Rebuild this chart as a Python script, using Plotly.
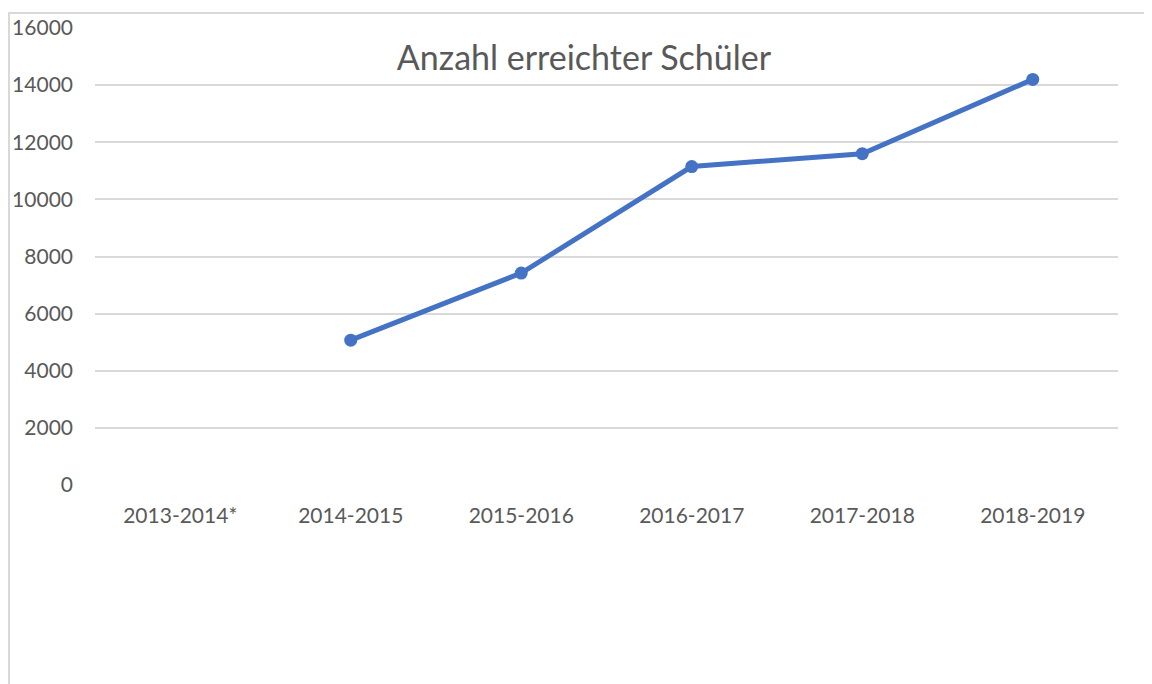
import plotly.graph_objects as go

categories = ["2013-2014*", "2014-2015", "2015-2016", "2016-2017", "2017-2018", "2018-2019"]
values = [None, 5070, 7420, 11150, 11600, 14200]
y_ticks = [0, 2000, 4000, 6000, 8000, 10000, 12000, 14000, 16000]
y_ticktext = [str(v) for v in y_ticks]

OFF = 8  # page offset of the figure
W, H = 1152 - OFF, 684 - OFF
L, R, T, B = 95 - OFF, 1152 - 1118, 28 - OFF, 684 - 485
pw, ph = W - L - R, H - T - B

fig = go.Figure()
fig.add_trace(go.Scatter(
    x=categories, y=values, mode="lines+markers",
    line=dict(color="#4472C4", width=5),
    marker=dict(color="#4472C4", size=13),
    connectgaps=False, showlegend=False,
))

grey = "#595959"
fig.update_layout(
    width=W, height=H,
    margin=dict(l=L, r=R, t=T, b=B, autoexpand=False),
    paper_bgcolor="white", plot_bgcolor="white",
    font=dict(family="Lato, Carlito, Liberation Sans, sans-serif", color=grey, size=21),
    title=dict(text="Anzahl erreichter Schüler", x=(584 - OFF) / W, xanchor="center",
               y=1 - (58 - OFF) / H, yanchor="middle", font=dict(size=34, color=grey)),
    xaxis=dict(range=[-0.5, 5.5], showgrid=False, showline=False, zeroline=False, ticks="",
               automargin=False, ticklabelstandoff=16, tickfont=dict(size=21, color=grey)),
    yaxis=dict(range=[0, 16000], tickvals=y_ticks, ticktext=y_ticktext, showgrid=True,
               gridcolor="#d9d9d9", gridwidth=1.5, zeroline=False, showline=False, ticks="",
               automargin=False, ticklabelstandoff=21, tickfont=dict(size=21, color=grey)),
    shapes=[dict(type="rect", xref="paper", yref="paper",
                 x0=(1 - L) / pw, x1=(W + 20 - L) / pw,
                 y0=-(H + 20 - T - ph) / ph, y1=1 + (T - (13 - OFF)) / ph,
                 line=dict(color="#d9d9d9", width=2), layer="below")],
)

fig.write_html("out.html")
